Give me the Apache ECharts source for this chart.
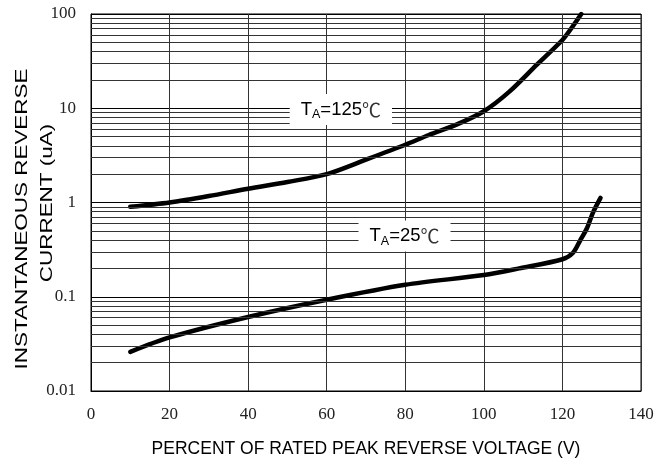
<!DOCTYPE html>
<html>
<head>
<meta charset="utf-8">
<script src="https://cdn.jsdelivr.net/npm/echarts@6/dist/echarts.min.js"></script>
<style>html,body{margin:0;padding:0;background:#fff}#c{width:671px;height:463px}</style>
</head>
<body>
<div id="c"></div>
<script>
// Data
var x125 = [10, 20, 30, 40, 50, 60, 70, 80, 86, 93, 100, 106.5, 113.5, 120, 122, 124.8];
var y125 = [0.9, 1.0, 1.17, 1.4, 1.65, 2.0, 2.85, 4.1, 5.2, 6.7, 9.3, 15, 29, 53, 68, 100];
var x25 = [10, 20, 40, 60, 80, 100, 109, 120, 122.7, 124.5, 126.2, 127.8, 129.7];
var y25 = [0.026, 0.037, 0.061, 0.093, 0.134, 0.17, 0.2, 0.25, 0.293, 0.395, 0.53, 0.785, 1.12];
var xTicks = [0, 20, 40, 60, 80, 100, 120, 140];
var yTickLabels = ['0.01', '0.1', '1', '10', '100'];
var decades = [0.01, 0.1, 1, 10];
var minorMultipliers = [2, 3, 4, 5, 6, 7, 8, 9];
var label125 = {x: 63.6, y: 9.7, temp: '125'};
var label25 = {x: 79.8, y: 0.44, temp: '25'};

var minorVals = [];
decades.forEach(function (d) { minorMultipliers.forEach(function (m) { minorVals.push(+(d * m).toPrecision(3)); }); });

function pairs(xs, ys) { return xs.map(function (x, i) { return [x, ys[i]]; }); }

var labelRich = {
  t: {fontFamily: 'Liberation Sans', fontSize: 18.5, color: '#000'},
  s: {fontFamily: 'Liberation Sans', fontSize: 12.5, color: '#000', padding: [10, 0, 0, 0]},
  c: {fontFamily: 'Noto Sans CJK SC', fontSize: 19, color: '#333'}
};
function annot(l) {
  return {
    coord: [l.x, l.y], symbol: 'rect', symbolSize: 0,
    label: {
      show: true, position: 'inside',
      formatter: '{t|T}{s|A}{t|=' + l.temp + '}{c|℃}',
      backgroundColor: '#fff', padding: [4, 11, 4, 11],
      rich: labelRich
    }
  };
}

var chart = echarts.init(document.getElementById('c'), null, {renderer: 'canvas'});
var lineStyle = {color: '#000', width: 4.5, cap: 'round', join: 'round'};
chart.setOption({
  animation: false,
  backgroundColor: '#fff',
  grid: {left: 91, right: 30, top: 14, bottom: 70, show: true, borderColor: '#000', borderWidth: 1},
  xAxis: {
    type: 'value', min: 0, max: 140, interval: 20,
    name: 'PERCENT OF RATED PEAK REVERSE VOLTAGE (V)', nameLocation: 'middle', nameGap: 49,
    nameTextStyle: {fontFamily: 'Liberation Sans', fontSize: 17.5, color: '#000'},
    axisLine: {show: true, lineStyle: {color: '#000'}}, axisTick: {show: false},
    axisLabel: {margin: 15, fontFamily: 'Liberation Serif', fontSize: 17, color: '#222',
      formatter: function (v) { return xTicks.indexOf(v) >= 0 ? String(v) : ''; }},
    splitLine: {show: true, lineStyle: {color: '#333', width: 1}}
  },
  yAxis: {
    type: 'log', logBase: 10, min: 0.01, max: 100,
    axisLine: {show: true, lineStyle: {color: '#000'}}, axisTick: {show: false},
    axisLabel: {margin: 15, fontFamily: 'Liberation Serif', fontSize: 17, color: '#222',
      formatter: function (v) { var i = Math.round(Math.log10(v)) + 2; return yTickLabels[i] || ''; }},
    splitLine: {show: true, lineStyle: {color: '#000', width: 1}},
    minorTick: {show: false}, minorSplitLine: {show: false}
  },
  graphic: [
    {type: 'text', x: 22, y: 219, rotation: Math.PI / 2, scaleX: 1.32,
      style: {text: 'INSTANTANEOUS REVERSE', fontFamily: 'Liberation Sans', fontSize: 17, fill: '#000', align: 'center', verticalAlign: 'middle'}},
    {type: 'text', x: 47.5, y: 203, rotation: Math.PI / 2, scaleX: 1.32,
      style: {text: 'CURRENT (uA)', fontFamily: 'Liberation Sans', fontSize: 17, fill: '#000', align: 'center', verticalAlign: 'middle'}}
  ],
  series: [
    {type: 'line', data: [], silent: true, symbol: 'none', z: 1,
      markLine: {silent: true, symbol: 'none', label: {show: false},
        lineStyle: {color: '#333', width: 1, type: 'solid'},
        data: minorVals.map(function (v) { return {yAxis: v}; })}},
    {type: 'line', name: 'TA=125', data: pairs(x125, y125), smooth: 0.3, symbol: 'none', lineStyle: lineStyle, z: 3,
      markPoint: {silent: true, data: [annot(label125)], z: 5}},
    {type: 'line', name: 'TA=25', data: pairs(x25, y25), smooth: 0.3, symbol: 'none', lineStyle: lineStyle, z: 3,
      markPoint: {silent: true, data: [annot(label25)], z: 5}}
  ]
});
</script>
</body>
</html>
